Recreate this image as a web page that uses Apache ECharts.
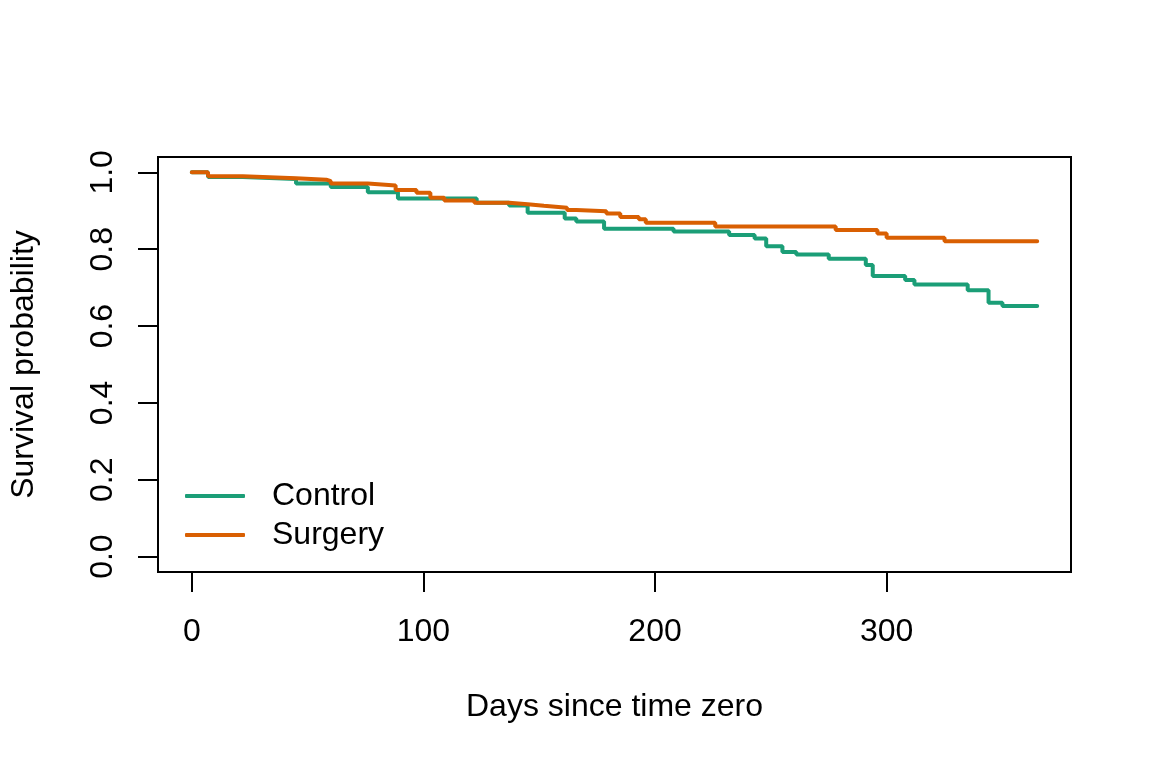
<!DOCTYPE html>
<html>
<head>
<meta charset="utf-8">
<script src="https://cdn.jsdelivr.net/npm/echarts@6/dist/echarts.min.js"></script>
<style>
html,body{margin:0;padding:0;background:#fff;}
#chart{width:1152px;height:768px;}
</style>
</head>
<body>
<div id="chart"></div>
<script>
// Data
const seriesNames = ['Control', 'Surgery'];
const controlDays = [0, 7, 22, 45, 60, 76, 89, 123, 137, 145, 161, 166, 178, 208, 232, 243, 248, 255, 261, 275, 291, 294, 308, 312, 335, 344, 350, 365];
const controlSurv = [1.0, 0.988, 0.983, 0.971, 0.962, 0.948, 0.932, 0.921, 0.914, 0.895, 0.880, 0.872, 0.853, 0.846, 0.837, 0.828, 0.808, 0.793, 0.786, 0.775, 0.759, 0.730, 0.720, 0.708, 0.693, 0.661, 0.652, 0.652];
const surgeryDays = [0, 7, 22, 45, 58, 60, 76, 88, 97, 103, 109, 122, 137, 145, 152, 162, 166, 179, 185, 193, 196, 226, 278, 296, 300, 325, 365];
const surgerySurv = [1.0, 0.990, 0.985, 0.981, 0.977, 0.971, 0.966, 0.954, 0.947, 0.934, 0.927, 0.921, 0.917, 0.913, 0.908, 0.902, 0.899, 0.893, 0.884, 0.878, 0.869, 0.859, 0.850, 0.841, 0.830, 0.821, 0.821];
const xTicks = [0, 100, 200, 300];
const yTicks = [0, 0.2, 0.4, 0.6, 0.8, 1.0];
const xTitle = 'Days since time zero';
const yTitle = 'Survival probability';

const FONT = '"Liberation Sans", Arial, Helvetica, sans-serif';
const colors = ['#1B9E77', '#D95F02'];

function pairs(xs, ys) { return xs.map((x, i) => [x, ys[i]]); }

const chart = echarts.init(document.getElementById('chart'), null, {renderer: 'canvas'});
chart.setOption({
  animation: false,
  backgroundColor: '#ffffff',
  textStyle: {fontFamily: FONT},
  grid: {
    left: 157, right: 81, top: 157, bottom: 196,
    show: true, borderColor: '#000', borderWidth: 2, backgroundColor: 'transparent'
  },
  legend: {
    orient: 'vertical',
    left: 185, top: 480,
    padding: 0,
    itemWidth: 60, itemHeight: 4, itemGap: 7,
    icon: 'roundRect',
    data: seriesNames,
    textStyle: {fontFamily: FONT, fontSize: 32, color: '#000', lineHeight: 32, padding: [0, 0, 0, 22]}
  },
  xAxis: {
    type: 'value',
    min: -14.6, max: 379.6,
    name: xTitle, nameLocation: 'middle', nameGap: 119,
    nameTextStyle: {fontFamily: FONT, fontSize: 32, color: '#000'},
    axisLine: {show: false, onZero: false},
    splitLine: {show: false},
    axisTick: {show: true, inside: false, length: 20, customValues: xTicks, lineStyle: {color: '#000', width: 2}},
    axisLabel: {show: true, customValues: xTicks, margin: 44, fontFamily: FONT, fontSize: 32, color: '#000'}
  },
  yAxis: {
    type: 'value',
    min: -0.04, max: 1.04,
    name: yTitle, nameLocation: 'middle', nameGap: 118, nameRotate: 90,
    nameTextStyle: {fontFamily: FONT, fontSize: 32, color: '#000'},
    axisLine: {show: false, onZero: false},
    splitLine: {show: false},
    axisTick: {show: true, inside: false, length: 20, customValues: yTicks, lineStyle: {color: '#000', width: 2}},
    axisLabel: {show: true, customValues: yTicks, rotate: 90, margin: 39, fontFamily: FONT, fontSize: 32, color: '#000',
      formatter: v => v.toFixed(1)}
  },
  series: [
    {
      name: seriesNames[0], type: 'line', step: 'end', symbol: 'none',
      data: pairs(controlDays, controlSurv),
      lineStyle: {color: colors[0], width: 4, cap: 'round'},
      itemStyle: {color: colors[0]}
    },
    {
      name: seriesNames[1], type: 'line', step: 'end', symbol: 'none',
      data: pairs(surgeryDays, surgerySurv),
      lineStyle: {color: colors[1], width: 4, cap: 'round'},
      itemStyle: {color: colors[1]}
    }
  ]
});
</script>
</body>
</html>
